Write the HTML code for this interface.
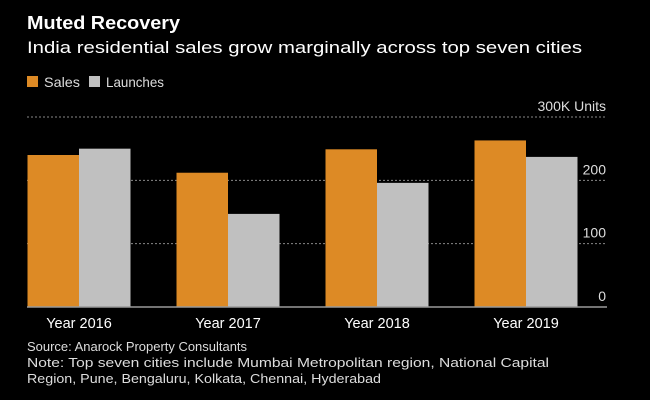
<!DOCTYPE html>
<html><head><meta charset="utf-8"><style>
body{margin:0;background:#000;}
svg{display:block;font-family:"Liberation Sans",sans-serif;}
</style></head><body>
<svg width="650" height="400">
<rect width="650" height="400" fill="#000"/>
<text x="27" y="29" fill="#fff" font-size="18" font-weight="bold" textLength="153" lengthAdjust="spacingAndGlyphs">Muted Recovery</text>
<text x="27" y="53" fill="#fff" font-size="17" textLength="555" lengthAdjust="spacingAndGlyphs">India residential sales grow marginally across top seven cities</text>
<rect x="27" y="76" width="11" height="11" fill="#dd8a25"/>
<text x="44" y="87" fill="#ddd" font-size="14" textLength="36" lengthAdjust="spacingAndGlyphs">Sales</text>
<rect x="89" y="76" width="11" height="11" fill="#c0c0c0"/>
<text x="106" y="87" fill="#ddd" font-size="14" textLength="58" lengthAdjust="spacingAndGlyphs">Launches</text>
<g id="grid"></g>
<g id="bars"></g>
<line x1="27" x2="607" y1="307" y2="307" stroke="#999" stroke-width="1.5"/>
<g id="xlabels"></g>
<text x="27" y="351" fill="#ddd" font-size="13" textLength="220" lengthAdjust="spacingAndGlyphs">Source: Anarock Property Consultants</text>
<text x="27" y="367" fill="#ddd" font-size="13" textLength="522" lengthAdjust="spacingAndGlyphs">Note: Top seven cities include Mumbai Metropolitan region, National Capital</text>
<text x="27" y="383" fill="#ddd" font-size="13" textLength="354" lengthAdjust="spacingAndGlyphs">Region, Pune, Bengaluru, Kolkata, Chennai, Hyderabad</text>
</svg>
<script>
const categories=["Year 2016","Year 2017","Year 2018","Year 2019"];
const sales=[240,212,249,263];
const launches=[250,147,196,237];
const ticks=[0,100,200,300];
const tickLabels=["0","100","200","300K Units"];
const NS="http://www.w3.org/2000/svg";
const y0=307,pxPer=190/300,left=27,right=607,groupW=149,barW=51.5;
function y(v){return y0-v*pxPer;}
function cx(i){return 79+i*groupW;}
function mk(tag,attrs,parent){const e=document.createElementNS(NS,tag);for(const k in attrs)e.setAttribute(k,attrs[k]);document.getElementById(parent).appendChild(e);return e;}
ticks.forEach((t,i)=>{
  if(t>0){const l=mk('line',{x1:left,x2:right,y1:y(t),y2:y(t),stroke:'#888','stroke-dasharray':'2,2'},'grid');
  
  }
  const tx=mk('text',{x:606,y:y(t)-6,fill:'#ddd','font-size':'14','text-anchor':'end'},'grid');
  tx.textContent=tickLabels[i];
  
  
});
categories.forEach((c,i)=>{
  const b1=mk('rect',{x:cx(i)-barW,y:y(sales[i]),width:barW,height:y0-y(sales[i]),fill:'#dd8a25'},'bars');
  
  
  const b2=mk('rect',{x:cx(i),y:y(launches[i]),width:barW,height:y0-y(launches[i]),fill:'#c0c0c0'},'bars');
  
  
  const t=mk('text',{x:cx(i),y:328,fill:'#fff','font-size':'14.5','text-anchor':'middle'},'xlabels');
  t.textContent=c;
  
  
});
</script>
</body></html>
